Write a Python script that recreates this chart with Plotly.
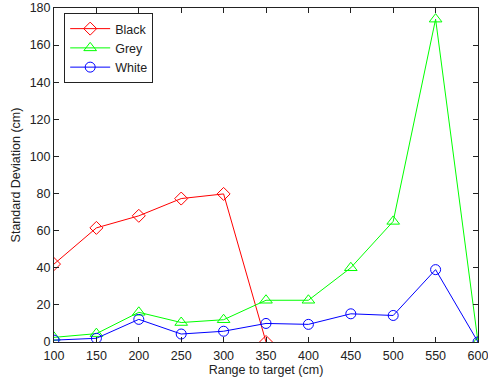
import plotly.graph_objects as go

ranges = [100, 150, 200, 250, 300, 350, 400, 450, 500, 550, 600]
black_x = [100, 150, 200, 250, 300, 350]
black = [42, 61.5, 68, 77.3, 79.8, 0]
grey = [2.5, 4.5, 16, 10.5, 12, 22.5, 22.5, 40, 65, 174, 0]
white = [1, 2, 12.2, 4.3, 5.8, 10, 9.5, 15.2, 14.3, 39, 0]

FONT = "Liberation Sans, Arial"
fig = go.Figure()
fig.add_trace(go.Scatter(x=black_x, y=black, name="Black", mode="lines+markers",
                         line=dict(color="#ff0000", width=1),
                         marker=dict(symbol="diamond-open", size=10, color="#ff0000", line=dict(width=1))))
fig.add_trace(go.Scatter(x=ranges, y=grey, name="Grey", mode="lines+markers",
                         line=dict(color="#00ff00", width=1),
                         marker=dict(symbol="triangle-up-open", size=11, color="#00ff00", line=dict(width=1))))
fig.add_trace(go.Scatter(x=ranges, y=white, name="White", mode="lines+markers",
                         line=dict(color="#0000ff", width=1),
                         marker=dict(symbol="circle-open", size=10, color="#0000ff", line=dict(width=1))))

axis_common = dict(showgrid=False, zeroline=False, showline=True, linecolor="#222",
                   linewidth=1, mirror="ticks", ticks="inside", ticklen=5, tickcolor="#222",
                   ticklabeloverflow="allow", automargin=False,
                   tickfont=dict(family=FONT, size=12.5, color="#222"))
fig.update_layout(
    width=488, height=385,
    margin=dict(l=54, r=10, t=8, b=43),
    paper_bgcolor="white", plot_bgcolor="white",
    font=dict(family=FONT, size=12.5, color="#222"),
    xaxis=dict(range=[100, 600], tickvals=ranges, ticklabelstandoff=2,
               title=dict(text="Range to target (cm)", standoff=2, font=dict(size=12.5)), **axis_common),
    yaxis=dict(range=[0, 180], dtick=20,
               title=dict(text="Standard Deviation (cm)", standoff=6, font=dict(size=12.5)), **axis_common),
    legend=dict(x=0.024, y=0.985, xanchor="left", yanchor="top", bordercolor="#222", borderwidth=1,
                bgcolor="white", font=dict(size=12.5), tracegroupgap=0, itemwidth=40),
    showlegend=True,
)
fig.write_html("out.html", config={"displayModeBar": False},
               post_script="document.body.style.margin='0';")
